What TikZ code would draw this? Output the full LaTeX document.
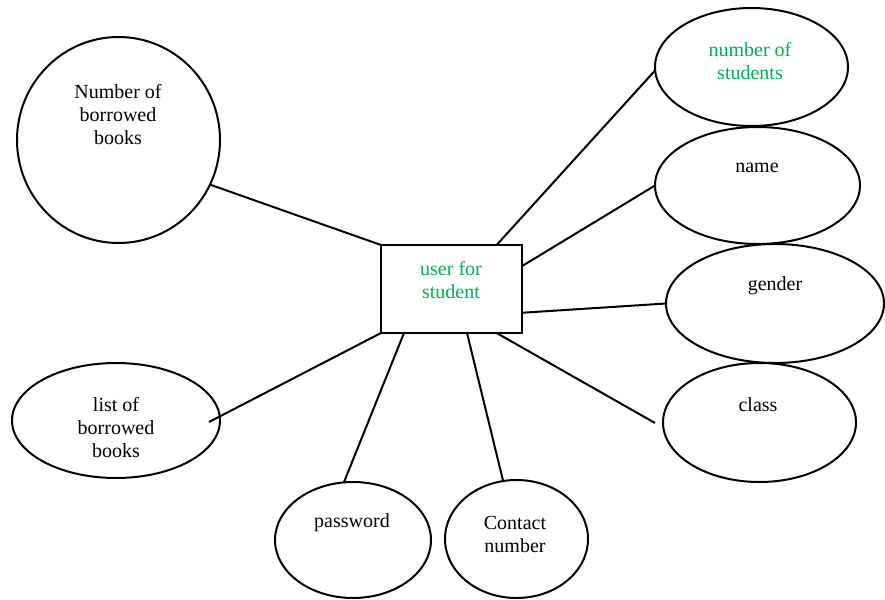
\documentclass[tikz,border=0pt]{standalone}
\usepackage{fontspec}
\setmainfont{Liberation Serif}
\newfontfamily\lserif{Liberation Serif}
\usetikzlibrary{shapes.geometric,calc}
\definecolor{attrgreen}{RGB}{0,176,80}
\tikzset{
  attr/.style={draw, ellipse, line width=1.2pt, inner sep=0pt, outer sep=0pt},
  ent/.style={draw, rectangle, line width=1.2pt, inner sep=0pt, outer sep=0pt},
  lbl/.style={align=center, inner sep=0pt, font=\lserif\fontsize{12}{13.8}\selectfont},
  grn/.style={text=attrgreen},
  conn/.style={line width=1.2pt}
}
\begin{document}
\begin{tikzpicture}[x=0.6pt,y=-0.6pt]
\useasboundingbox (0,0) rectangle (885,599);
% shapes
\node[ent, minimum width=84.6pt, minimum height=52.8pt] (box) at (451.5,289) {};
\node[attr, minimum width=121.8pt, minimum height=123.6pt] (nb) at (118.5,140) {};
\node[attr, minimum width=115.8pt, minimum height=70.8pt] (ns) at (751.5,67) {};
\node[attr, minimum width=123pt, minimum height=70.2pt] (name) at (757.5,185.5) {};
\node[attr, minimum width=130.8pt, minimum height=71.4pt] (gender) at (775,303.5) {};
\node[attr, minimum width=115.8pt, minimum height=71.4pt] (class) at (759.5,422.5) {};
\node[attr, minimum width=124.8pt, minimum height=69pt] (list) at (116,420.5) {};
\node[attr, minimum width=93.6pt, minimum height=69.6pt] (pw) at (353,540) {};
\node[attr, minimum width=85.8pt, minimum height=70.8pt] (ct) at (516.5,539) {};
% labels
\node[lbl, grn] (boxt) at (451,280) {user for\\student};
\node[lbl] (nbt) at (118,114.5) {Number of\\borrowed\\books};
\node[lbl, grn] (nst) at (750,61) {number of\\students};
\node[lbl] (namet) at (757,168) {name};
\node[lbl] (gendert) at (775,286) {gender};
\node[lbl] (classt) at (758,405) {class};
\node[lbl] (listt) at (116,427.5) {list of\\borrowed\\books};
\node[lbl] (pwt) at (352,523) {password};
\node[lbl] (ctt) at (515,534) {Contact\\number};
% free ends
\coordinate (classend) at ($(class.west)+(-8,0.5)$);
\coordinate (listend) at ($(list.east)+(-11,1.5)$);
% connectors
\draw[conn] (nb.-26.4) -- (box.north west);
\draw[conn] (ns.182) -- ($(box.north west)!0.82!(box.north east)$);
\draw[conn] (name.180) -- ($(box.north east)!0.24!(box.south east)$);
\draw[conn] (gender.180) -- ($(box.north east)!0.77!(box.south east)$);
\draw[conn] ($(box.south west)!0.82!(box.south east)$) -- (classend);
\draw[conn] (box.south west) -- (listend);
\draw[conn] (pw.99) -- ($(box.south west)!0.163!(box.south east)$);
\draw[conn] (ct.103) -- ($(box.south west)!0.61!(box.south east)$);
\end{tikzpicture}
\end{document}
